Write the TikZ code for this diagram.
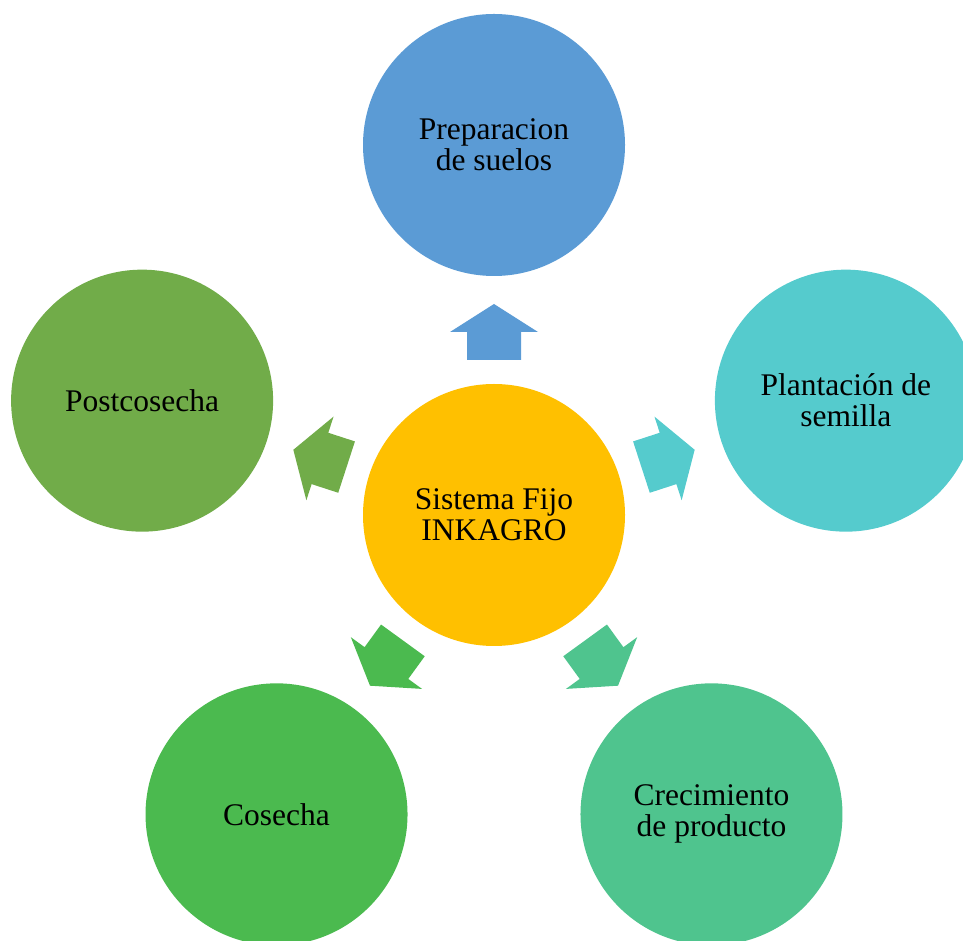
\documentclass[tikz,border=0pt]{standalone}
\usepackage{fontspec}
\setmainfont{Liberation Serif}
\usetikzlibrary{calc}
\definecolor{cBlue}{HTML}{5B9BD5}
\definecolor{cCyan}{HTML}{55CBCD}
\definecolor{cTeal}{HTML}{4FC48E}
\definecolor{cGreen}{HTML}{4BBA4F}
\definecolor{cOlive}{HTML}{71AC49}
\definecolor{cGold}{HTML}{FFC000}
\tikzset{
  stage/.style={circle, minimum size=262pt, inner sep=0pt, align=center,
    font=\fontsize{31.5}{31}\selectfont, text=black},
  blockarrow/.style={draw=none}
}
\newcommand{\outarrow}[2]{%
  \begin{scope}[shift={(c.center)}, rotate=#1]
    \fill[#2] (155,-27) -- (183,-27) -- (183,-44) -- (211,0) -- (183,44) -- (183,27) -- (155,27) -- cycle;
  \end{scope}}
\begin{document}
\begin{tikzpicture}[x=1pt,y=1pt]
\useasboundingbox (0,0) rectangle (963,940);
\node[stage, fill=cGold] (c) at (494,425) {Sistema Fijo\\INKAGRO};
\node[stage, fill=cBlue] (top) at ($(c)+(90:370)$) {Preparacion\\de suelos};
\node[stage, fill=cCyan] (right) at ($(c)+(18:370)$) {Plantación de\\semilla};
\node[stage, fill=cTeal] (br) at ($(c)+(-54:370)$) {Crecimiento\\de producto};
\node[stage, fill=cGreen] (bl) at ($(c)+(-126:370)$) {Cosecha};
\node[stage, fill=cOlive] (left) at ($(c)+(162:370)$) {Postcosecha};
\outarrow{90}{cBlue}
\outarrow{18}{cCyan}
\outarrow{-54}{cTeal}
\outarrow{-126}{cGreen}
\outarrow{162}{cOlive}
\end{tikzpicture}
\end{document}
